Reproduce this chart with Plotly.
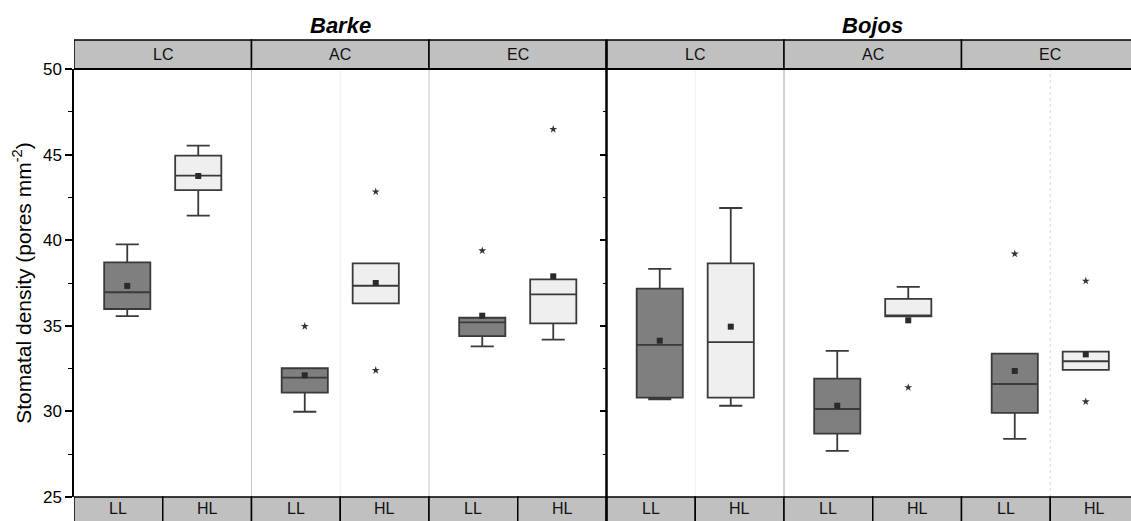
import plotly.graph_objects as go

# ---------------- data ----------------
cultivars = ["Barke", "Bojos"]
conditions = ["LC", "AC", "EC"]
lights = ["LL", "HL"]

# order: Barke LC, AC, EC, Bojos LC, AC, EC  (per light level)
ll_lower = [35.57, 29.98, 33.80, 30.71, 27.70, 28.40]
ll_q1 = [35.98, 31.10, 34.40, 30.80, 28.70, 29.91]
ll_median = [36.96, 31.97, 35.20, 33.88, 30.14, 31.60]
ll_q3 = [38.71, 32.52, 35.47, 37.17, 31.91, 33.37]
ll_upper = [39.76, 32.52, 35.47, 38.32, 33.53, 33.37]
ll_mean = [37.33, 32.11, 35.59, 34.13, 30.33, 32.36]
ll_outliers = [[], [34.97], [39.39], [], [], [39.20]]

hl_lower = [41.43, 36.31, 34.19, 30.33, 35.55, 32.42]
hl_q1 = [42.93, 36.31, 35.14, 30.80, 35.55, 32.42]
hl_median = [43.77, 37.34, 36.84, 34.05, 35.55, 32.93]
hl_q3 = [44.94, 38.65, 37.71, 38.65, 36.57, 33.49]
hl_upper = [45.52, 38.65, 37.71, 41.88, 37.27, 33.49]
hl_mean = [43.75, 37.50, 37.89, 34.95, 35.32, 33.33]
hl_outliers = [[], [32.40, 42.83], [46.48], [], [31.40], [37.62, 30.57]]

y_ticks = [25, 30, 35, 40, 45, 50]

# ---------------- layout helpers ----------------
FONT = "Liberation Sans, Arial, sans-serif"
W, H = 1131, 521
ML, MT, MB = 74, 69, 24
PLOT_H = H - MT - MB
PX_PER_UNIT = 177.5
x_lo = -0.5
x_hi = x_lo + (W - ML) / PX_PER_UNIT
OFF = 0.2
BOXW = 0.26
HEAD = 29 / PLOT_H

n_cat = len(cultivars) * len(conditions)
cat_idx = list(range(n_cat))
ll_x = [k - OFF for k in cat_idx]
hl_x = [k + OFF for k in cat_idx]

fig = go.Figure()

box_line = "#3a3a3a"
fig.add_trace(go.Box(x=ll_x, q1=ll_q1, median=ll_median, q3=ll_q3,
                     lowerfence=ll_lower, upperfence=ll_upper,
                     width=BOXW, whiskerwidth=0.5, boxpoints=False,
                     fillcolor="#7f7f7f", line=dict(color=box_line, width=1.8),
                     showlegend=False, hoverinfo="skip"))
fig.add_trace(go.Box(x=hl_x, q1=hl_q1, median=hl_median, q3=hl_q3,
                     lowerfence=hl_lower, upperfence=hl_upper,
                     width=BOXW, whiskerwidth=0.5, boxpoints=False,
                     fillcolor="#efefef", line=dict(color=box_line, width=1.8),
                     showlegend=False, hoverinfo="skip"))

# means
fig.add_trace(go.Scatter(x=ll_x + hl_x, y=ll_mean + hl_mean, mode="markers",
                         marker=dict(symbol="square", size=6, color="#2a2a2a"),
                         showlegend=False, hoverinfo="skip"))

# outliers
ox, oy = [], []
for xs, outs in ((ll_x, ll_outliers), (hl_x, hl_outliers)):
    for xv, vals in zip(xs, outs):
        for v in vals:
            ox.append(xv)
            oy.append(v)
fig.add_trace(go.Scatter(x=ox, y=oy, mode="markers",
                         marker=dict(symbol="star", size=6, color="#333333"),
                         showlegend=False, hoverinfo="skip"))

# helper trace for the inner (divider) axis
fig.add_trace(go.Scatter(x=[0], y=[30], yaxis="y2", mode="markers",
                         marker=dict(opacity=0), showlegend=False, hoverinfo="skip"))

shapes = []
annotations = []

# light vertical separators inside plot
for xv, col, dash in [(0.5, "#c8c8c8", "solid"), (1.5, "#c8c8c8", "solid"),
                      (3.5, "#a8a8a8", "solid"), (1.0, "#efefef", "solid"),
                      (3.0, "#efefef", "solid"), (5.0, "#d8d8d8", "dot")]:
    shapes.append(dict(type="line", xref="x", yref="paper", x0=xv, x1=xv, y0=0, y1=1,
                       line=dict(color=col, width=1, dash=dash), layer="below"))

# header band (conditions)
for k in cat_idx:
    shapes.append(dict(type="rect", xref="x", yref="paper", x0=k - 0.5, x1=k + 0.5,
                       y0=1, y1=1 + HEAD, fillcolor="#c0c0c0",
                       line=dict(color="black", width=1.5), layer="above"))
    annotations.append(dict(x=k, y=1 + HEAD / 2, xref="x", yref="paper",
                            text=conditions[k % 3], showarrow=False,
                            font=dict(family=FONT, size=16, color="#111"),
                            xanchor="center", yanchor="middle"))
# plot top border (thicker)
shapes.append(dict(type="line", xref="paper", yref="paper", x0=0, x1=1, y0=1, y1=1,
                   line=dict(color="black", width=2)))

# bottom band (light levels)
for k in cat_idx:
    for j, lab in enumerate(lights):
        x0 = k - 0.5 + 0.5 * j
        shapes.append(dict(type="rect", xref="x", yref="paper", x0=x0, x1=x0 + 0.5,
                           y0=-0.2, y1=0, fillcolor="#c0c0c0",
                           line=dict(color="black", width=1.5), layer="above"))
        annotations.append(dict(x=x0 + 0.25, y=-12 / PLOT_H, xref="x", yref="paper",
                                text=lab, showarrow=False,
                                font=dict(family=FONT, size=16, color="#111"),
                                xanchor="center", yanchor="middle"))

# thick cultivar divider
shapes.append(dict(type="line", xref="x", yref="paper", x0=2.5, x1=2.5,
                   y0=-0.2, y1=1 + HEAD, line=dict(color="black", width=2.5),
                   layer="above"))

# cultivar titles
for i, name in enumerate(cultivars):
    annotations.append(dict(x=1 + 3 * i, y=1 + 44 / PLOT_H, xref="x", yref="paper",
                            text="<b><i>" + name + "</i></b>", showarrow=False,
                            font=dict(family=FONT, size=22, color="black"),
                            xanchor="center", yanchor="middle"))

div_pos = (2.5 - x_lo) / (x_hi - x_lo)

fig.update_layout(
    width=W, height=H,
    margin=dict(l=ML, r=0, t=MT, b=MB, pad=0),
    paper_bgcolor="white", plot_bgcolor="white",
    font=dict(family=FONT, size=16, color="black"),
    shapes=shapes, annotations=annotations,
    xaxis=dict(range=[x_lo, x_hi], showticklabels=False, showgrid=False,
               zeroline=False, showline=False, ticks=""),
    yaxis=dict(range=[25, 50], tickvals=y_ticks, ticks="outside", ticklen=7,
               tickwidth=1.5, tickcolor="black", showline=True, linecolor="black",
               linewidth=1.5, showgrid=False, zeroline=False,
               tickfont=dict(family=FONT, size=17, color="black"),
               minor=dict(dtick=2.5, ticks="outside", ticklen=4, tickcolor="black",
                          tickwidth=1.2, showgrid=False),
               title=dict(text="Stomatal density (pores mm<sup>-2</sup>)",
                          font=dict(family=FONT, size=21, color="black"), standoff=6)),
    yaxis2=dict(range=[25, 50], overlaying="y", anchor="free", position=div_pos,
                side="right", tickvals=y_ticks, ticks="inside", ticklen=7,
                tickwidth=1.5, tickcolor="black", showticklabels=False,
                showline=False, showgrid=False, zeroline=False,
                minor=dict(dtick=2.5, ticks="inside", ticklen=4, tickcolor="black",
                           tickwidth=1.2, showgrid=False)),
)

fig.write_html("out.html")
